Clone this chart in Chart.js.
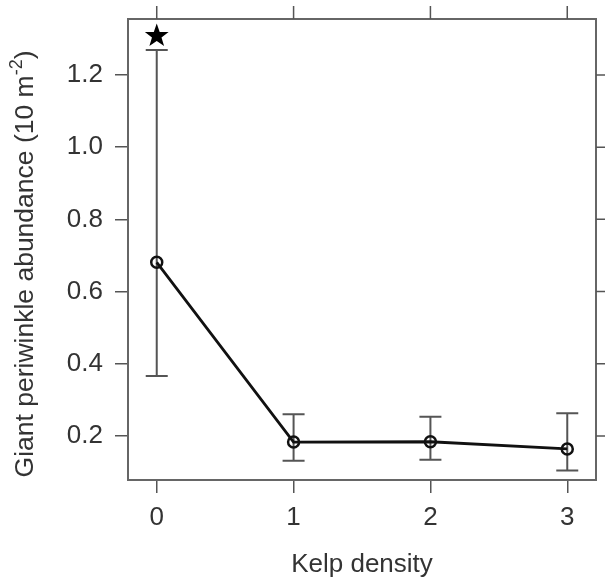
<!DOCTYPE html>
<html lang="en">
  <head>
    <meta charset="UTF-8" />
    <title>Giant periwinkle abundance vs kelp density</title>
    <script src="https://cdn.jsdelivr.net/npm/chart.js@4.4.0/dist/chart.umd.min.js"></script>
    <style>
      body { margin: 0; background: #fff; }
      canvas { display: block; }
    </style>
  </head>
  <body>
    <canvas id="chart" width="605" height="581"></canvas>

    <script>
      // data
      const kelpDensity = [0, 1, 2, 3];
      const meanAbundance = [0.681, 0.183, 0.184, 0.164];
      const lowerBar = [0.366, 0.131, 0.134, 0.104];
      const upperBar = [1.269, 0.26, 0.253, 0.263];
      const starX = [0];
      const starY = [1.308];
      const xTicks = [0, 1, 2, 3];
      const yTicks = [0.2, 0.4, 0.6, 0.8, 1.0, 1.2];

      const FONT = "'Liberation Sans', Arial, sans-serif";
      const TEXT = "#333";
      const AXIS = "#555";

      // error bars, star, box, top/right ticks and titles
      const extras = {
        id: "extras",
        beforeDatasetsDraw(chart) {
          const { ctx, scales } = chart;
          const xs = scales.x, ys = scales.y;
          ctx.save();
          ctx.strokeStyle = "#555";
          ctx.lineWidth = 2;
          kelpDensity.forEach((d, i) => {
            const px = xs.getPixelForValue(d);
            const lo = ys.getPixelForValue(lowerBar[i]);
            const hi = ys.getPixelForValue(upperBar[i]);
            ctx.beginPath();
            ctx.moveTo(px, lo);
            ctx.lineTo(px, hi);
            ctx.moveTo(px - 11, lo);
            ctx.lineTo(px + 11, lo);
            ctx.moveTo(px - 11, hi);
            ctx.lineTo(px + 11, hi);
            ctx.stroke();
          });
          ctx.restore();
        },
        afterDraw(chart) {
          const { ctx, chartArea: a, scales } = chart;
          const xs = scales.x, ys = scales.y;
          ctx.save();
          // frame
          ctx.strokeStyle = "#666";
          ctx.lineWidth = 2;
          ctx.strokeRect(a.left, a.top, a.right - a.left, a.bottom - a.top);
          // top + right ticks
          ctx.strokeStyle = AXIS;
          ctx.lineWidth = 1.5;
          ctx.beginPath();
          xTicks.forEach((v) => {
            const px = xs.getPixelForValue(v);
            ctx.moveTo(px, a.top);
            ctx.lineTo(px, a.top - 13);
          });
          yTicks.forEach((v) => {
            const py = ys.getPixelForValue(v);
            ctx.moveTo(a.right, py);
            ctx.lineTo(a.right + 13, py);
          });
          ctx.stroke();

          // star
          starX.forEach((sx, i) => {
            const cx = xs.getPixelForValue(sx);
            const cy = ys.getPixelForValue(starY[i]);
            const R = 12.5, r = R * 0.4;
            ctx.beginPath();
            for (let k = 0; k < 10; k++) {
              const rad = k % 2 ? r : R;
              const ang = -Math.PI / 2 + (k * Math.PI) / 5;
              const px = cx + rad * Math.cos(ang);
              const py = cy + rad * Math.sin(ang);
              k ? ctx.lineTo(px, py) : ctx.moveTo(px, py);
            }
            ctx.closePath();
            ctx.fillStyle = "#000";
            ctx.fill();
          });

          // x title
          ctx.fillStyle = TEXT;
          ctx.font = "26px " + FONT;
          ctx.textAlign = "center";
          ctx.textBaseline = "alphabetic";
          ctx.fillText("Kelp density", (a.left + a.right) / 2, 572);

          // y title with superscript
          const main = "Giant periwinkle abundance (10 m";
          const sup = "-2";
          const close = ")";
          ctx.font = "26.5px " + FONT;
          const w1 = ctx.measureText(main).width;
          const w3 = ctx.measureText(close).width;
          ctx.font = "18px " + FONT;
          const w2 = ctx.measureText(sup).width;
          const total = w1 + w2 + w3;
          ctx.translate(33, 264);
          ctx.rotate(-Math.PI / 2);
          ctx.textAlign = "left";
          let x0 = -total / 2;
          ctx.font = "26.5px " + FONT;
          ctx.fillText(main, x0, 0);
          ctx.font = "18px " + FONT;
          ctx.fillText(sup, x0 + w1, -11);
          ctx.font = "26.5px " + FONT;
          ctx.fillText(close, x0 + w1 + w2, 0);
          ctx.restore();
        },
      };

      new Chart(document.getElementById("chart"), {
        type: "line",
        data: {
          datasets: [
            {
              data: kelpDensity.map((d, i) => ({ x: d, y: meanAbundance[i] })),
              borderColor: "#111",
              borderWidth: 2.8,
              pointRadius: 5.5,
              pointBorderWidth: 2.5,
              pointBorderColor: "#111",
              pointBackgroundColor: "rgba(0,0,0,0)",
              tension: 0,
            },
          ],
        },
        options: {
          responsive: false,
          animation: false,
          layout: { padding: { top: 19, right: 9, left: 0, bottom: 0 } },
          plugins: { legend: { display: false }, tooltip: { enabled: false } },
          scales: {
            x: {
              type: "linear",
              min: -0.21,
              max: 3.21,
              afterBuildTicks: (s) => { s.ticks = xTicks.map((v) => ({ value: v })); },
              afterFit: (s) => {
                s.height = 101;
                s.paddingLeft = 0;
                s.paddingRight = 0;
              },
              grid: { drawOnChartArea: false, tickLength: 13, color: AXIS, lineWidth: 1.5 },
              border: { display: false },
              ticks: {
                padding: 9,
                color: TEXT,
                font: { family: FONT, size: 26 },
                callback: (v) => String(v),
              },
            },
            y: {
              min: 0.078,
              max: 1.355,
              afterBuildTicks: (s) => { s.ticks = yTicks.map((v) => ({ value: v })); },
              afterFit: (s) => {
                s.width = 128;
                s.paddingTop = 0;
                s.paddingBottom = 0;
              },
              grid: { drawOnChartArea: false, tickLength: 13, color: AXIS, lineWidth: 1.5 },
              border: { display: false },
              ticks: {
                padding: 12,
                color: TEXT,
                font: { family: FONT, size: 26 },
                callback: (v) => v.toFixed(1),
              },
            },
          },
        },
        plugins: [extras],
      });
    </script>
  </body>
</html>
